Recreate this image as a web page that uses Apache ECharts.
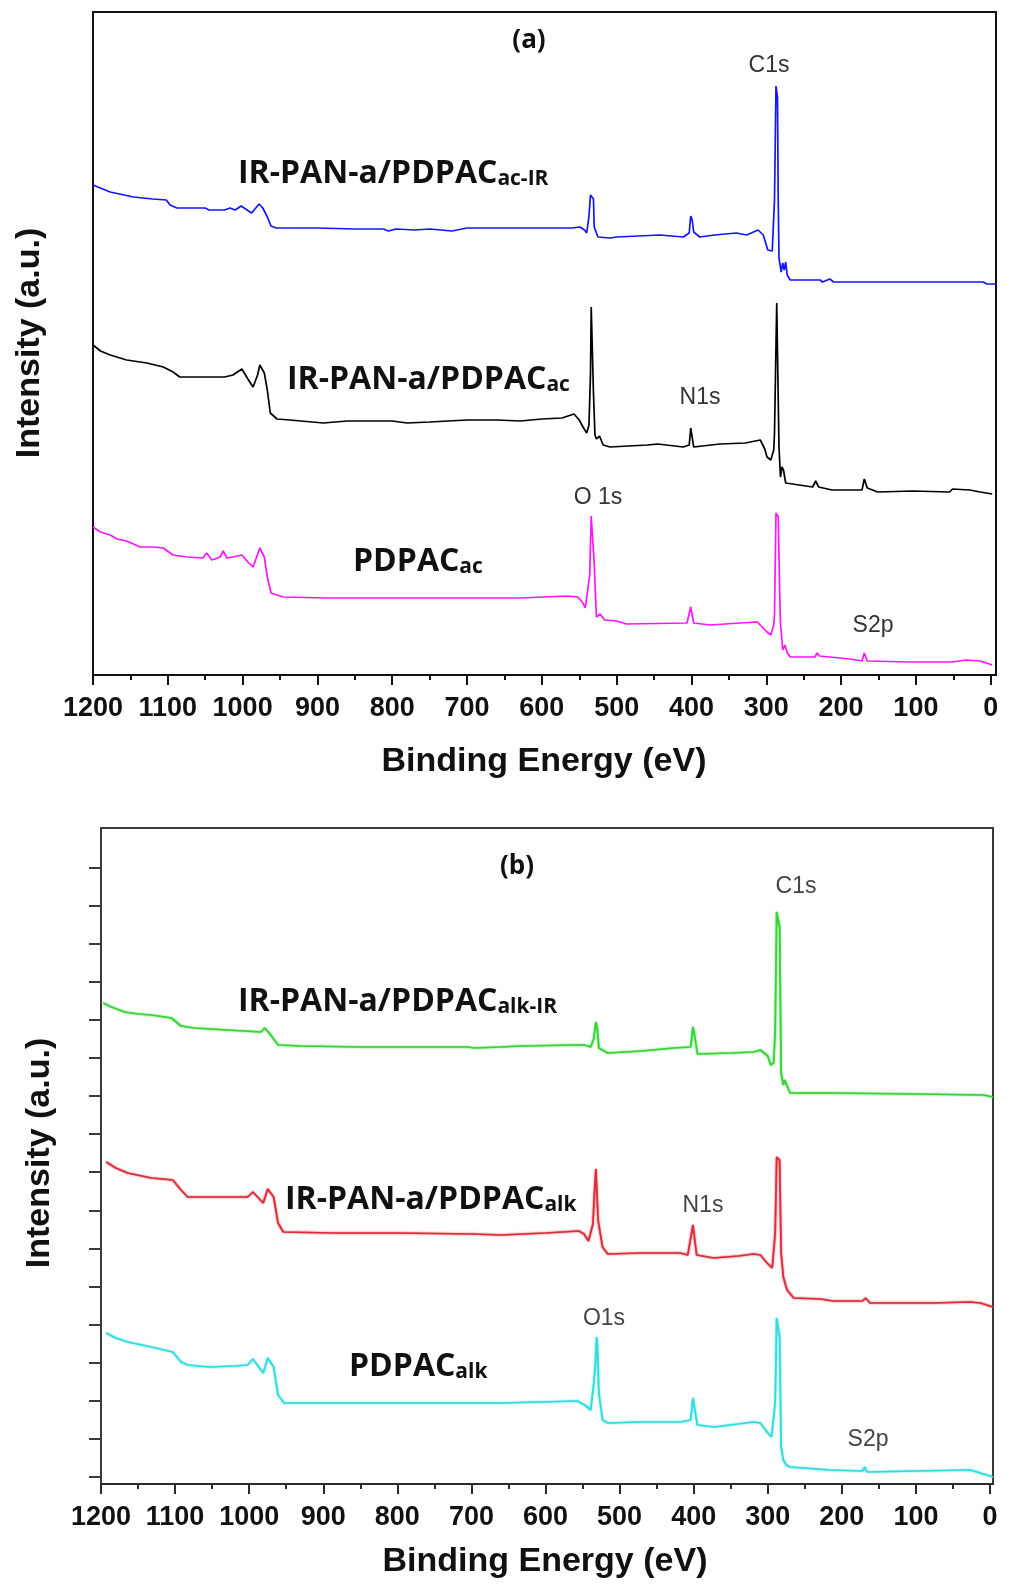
<!DOCTYPE html>
<html>
<head>
<meta charset="utf-8">
<title>XPS survey spectra</title>
<script src="https://cdn.jsdelivr.net/npm/echarts@6/dist/echarts.min.js"></script>
<style>
  html, body { margin: 0; padding: 0; background: #ffffff; }
  #chart { width: 1009px; height: 1589px; }
</style>
</head>
<body>
<div id="chart"></div>
<script>
// ---- Binding-energy scale (eV) ----
const energyTickStep = 100;
const energyMajorTicks = [0, 100, 200, 300, 400, 500, 600, 700, 800, 900, 1000, 1100, 1200];
const energyMinorTicks = [50, 150, 250, 350, 450, 550, 650, 750, 850, 950, 1050, 1150];
const energyMax = 1200;

// ---- Panel (a): acid-treated samples, [binding energy (eV), intensity (a.u.)] ----
const acIR = [
  [1200,490],[1177,483],[1146,478],[1120,476],[1102,475],[1097,470],[1088,467],[1050,467],[1045,465],
  [1024,465],[1017,467],[1010,465],[1002,469],[994,465],[988,462],[978,471],[973,467],[967,458],[962,449],
  [955,447],[941,447],[900,447],[850,446],[812,446],[805,444],[795,446],[770,445],[750,446],[720,444],
  [700,447],[650,447],[600,447],[560,447],[549,448],[543,445],[540,442],[537,459],[535,480],[533,478],
  [531,476],[530,448],[525,438],[509,437],[500,438],[442,440],[411,438],[403,442],[401,459],[399,455],
  [397,443],[389,438],[369,440],[340,442],[326,440],[311,445],[304,440],[298,425],[292,424],[289,475],
  [287,589],[285,578],[284,475],[283,417],[280,403],[278,412],[276,405],[274,413],[272,400],[268,395],
  [228,395],[225,393],[215,396],[210,393],[100,393],[10,393],[5,391],[-7,391]
];
const ac = [
  [1200,330],[1190,324],[1177,320],[1155,315],[1128,312],[1106,308],[1093,303],[1084,298],[1060,298],
  [1024,298],[1013,300],[1001,306],[993,296],[986,288],[980,300],[977,310],[971,302],[967,285],[963,262],
  [954,256],[937,255],[892,252],[860,254],[800,254],[780,252],[750,253],[700,255],[660,255],[629,254],
  [600,256],[573,257],[557,261],[550,255],[545,248],[540,242],[537,250],[535,300],[534,368],[532,366],
  [531,282],[529,240],[527,236],[523,239],[518,230],[509,228],[459,230],[445,231],[411,228],[403,230],
  [401,247],[399,247],[397,228],[362,231],[328,232],[308,235],[302,226],[299,218],[294,215],[290,225],
  [289,242],[287,330],[286,372],[284,372],[283,228],[281,198],[279,208],[277,205],[274,192],[272,190],
  [238,188],[234,194],[230,188],[212,185],[172,185],[169,196],[167,196],[165,187],[151,183],[104,184],
  [55,183],[51,186],[28,185],[14,183],[-2,181]
];
const pdpacAc = [
  [1200,148],[1190,143],[1177,140],[1168,136],[1155,134],[1137,128],[1120,128],[1106,127],[1093,120],
  [1074,118],[1053,117],[1048,122],[1041,115],[1030,118],[1026,124],[1021,117],[1013,118],[1001,120],
  [993,113],[986,108],[977,127],[971,118],[967,98],[962,82],[946,78],[887,77],[800,77],[700,77],[629,77],
  [566,79],[552,78],[545,72],[542,67],[540,65],[536,100],[534,159],[532,159],[530,112],[529,92],[527,58],
  [522,61],[516,55],[500,54],[487,51],[406,52],[401,68],[399,68],[397,52],[375,50],[335,52],[312,53],
  [299,43],[294,40],[290,50],[289,60],[287,162],[285,162],[284,158],[282,80],[281,52],[278,25],[275,30],
  [272,22],[268,18],[235,18],[232,22],[229,19],[188,16],[172,14],[169,22],[167,22],[165,14],[108,13],
  [51,13],[33,15],[14,14],[-2,10]
];

// ---- Panel (b): alkali-treated samples ----
const alkIR = [
  [1197,481],[1186,477],[1168,472],[1150,470],[1132,469],[1105,466],[1092,458],[1074,456],[1030,454],
  [984,452],[979,456],[977,457],[972,450],[961,439],[930,438],[850,437],[760,437],[704,437],[697,436],
  [660,437],[633,438],[560,439],[548,439],[539,437],[535,445],[532,462],[530,455],[528,436],[516,431],
  [470,433],[427,436],[404,437],[401,457],[399,450],[395,430],[350,431],[319,432],[310,434],[300,428],
  [296,419],[292,421],[290,454],[288,572],[286,572],[284,557],[282,411],[279,399],[277,404],[275,406],
  [270,391],[216,391],[100,390],[9,389],[-4,387]
];
const alk = [
  [1193,322],[1180,316],[1164,311],[1132,306],[1103,304],[1092,294],[1083,287],[1040,287],[1002,287],
  [995,292],[990,288],[981,281],[975,295],[973,297],[967,287],[961,261],[954,252],[885,251],[800,251],
  [700,250],[660,249],[600,251],[555,253],[548,250],[542,243],[536,260],[534,291],[532,315],[531,315],
  [529,264],[526,250],[523,237],[516,230],[470,231],[418,231],[408,229],[401,259],[399,259],[396,229],
  [373,226],[340,228],[319,230],[310,229],[301,221],[294,216],[290,251],[288,327],[286,327],[284,324],
  [282,231],[279,207],[274,194],[265,186],[229,185],[212,183],[172,183],[168,186],[162,181],[77,181],
  [27,182],[13,181],[-4,177]
];
const pdpacAlk = [
  [1193,151],[1180,146],[1164,142],[1132,137],[1103,132],[1092,122],[1083,119],[1055,117],[1020,118],
  [1002,119],[995,125],[990,120],[981,111],[975,126],[973,128],[967,117],[961,89],[953,81],[885,81],
  [800,81],[700,81],[660,81],[557,83],[545,78],[539,74],[535,100],[533,117],[531,147],[530,140],[528,91],
  [523,64],[516,61],[470,62],[418,62],[404,64],[401,86],[399,86],[395,59],[373,57],[340,60],[319,62],
  [310,61],[301,52],[295,47],[290,81],[288,166],[286,166],[284,147],[282,37],[279,24],[275,19],[270,17],
  [216,14],[172,13],[169,17],[166,12],[100,13],[27,14],[13,11],[-4,7]
];

// ---- Intensity axis tick marks in panel (b) ----
const intensityTickStart = 7;
const intensityTickStep = 38.1;
const intensityTickCount = 17;
const intensityTicks = Array.from({ length: intensityTickCount }, (_, i) => +(intensityTickStart + i * intensityTickStep).toFixed(1));

const chart = echarts.init(document.getElementById('chart'), null, { renderer: 'canvas' });

const INK = '#111111';
const INK_B = '#2a2a2a';

// Plot boxes. The energy axis runs slightly past 0 eV on the right, so the
// 1200 → 0 eV tick scale lives in thin strip grids hung under each plot and
// aligned with the data scale. In each strip, vertical mark lines at the tick
// energies form the outward tick marks (10 px major, 5 px minor), and the
// major strip's axis carries the tick labels.
const boxA = { left: 93, top: 12, width: 903, height: 663 };
const boxB = { left: 101, top: 828, width: 892, height: 656 };
const minA = -7.1, minB = -4;
const scaleA = { left: 93, width: 897.7, top: 676 };
const scaleB = { left: 101, width: 889, top: 1485 };

function dataEnergyAxis(gridIndex, min, lineColor) {
  return {
    type: 'value', gridIndex, inverse: true, min, max: energyMax, position: 'bottom',
    axisLine: { show: true, onZero: false, lineStyle: { color: lineColor, width: 2 } },
    axisTick: { show: false }, axisLabel: { show: false }, minorTick: { show: false },
    splitLine: { show: false }
  };
}
function tickStripAxis(gridIndex, withLabels) {
  return {
    type: 'value', gridIndex, inverse: true, min: 0, max: energyMax, interval: energyTickStep, position: 'bottom',
    axisLine: { show: false, onZero: false },
    axisTick: { show: false },
    splitLine: { show: false },
    axisLabel: withLabels ? {
      show: true, formatter: v => String(Math.round(v)), margin: 10,
      fontFamily: 'Liberation Sans', fontWeight: 'bold', fontSize: 27, color: INK,
      showMinLabel: true, showMaxLabel: true, hideOverlap: false
    } : { show: false }
  };
}
function hiddenAxis(gridIndex) {
  return { type: 'value', gridIndex, min: 0, max: 1, show: false };
}
// Tick marks drawn as vertical mark lines spanning a strip grid's full height.
function tickMarks(xIdx, yIdx, values, color) {
  return {
    type: 'line', xAxisIndex: xIdx, yAxisIndex: yIdx, data: [],
    showSymbol: false, symbol: 'none', silent: true, animation: false,
    lineStyle: { opacity: 0 },
    markLine: {
      silent: true, animation: false, symbol: ['none', 'none'], precision: 3,
      label: { show: false },
      emphasis: { disabled: true },
      lineStyle: { color, width: 2, type: 'solid', opacity: 1 },
      data: values.map(v => ({ xAxis: v }))
    }
  };
}
function spectrum(name, data, color, xIdx, yIdx, glow) {
  return {
    type: 'line', name, data, xAxisIndex: xIdx, yAxisIndex: yIdx,
    showSymbol: false, symbol: 'none', smooth: false, animation: false,
    lineStyle: Object.assign({ color, width: 1.7 }, glow ? { shadowColor: color, shadowBlur: 2 } : {})
  };
}

const sampleRich = (size, subSize) => ({
  m: { fontFamily: 'Open Sans', fontWeight: 700, fontSize: size, lineHeight: size, fill: INK },
  s: { fontFamily: 'Open Sans', fontWeight: 700, fontSize: subSize, lineHeight: 18, verticalAlign: 'bottom', fill: INK }
});
function sampleLabel(x, y, main, sub) {
  return {
    type: 'text', x, y,
    style: { text: '{m|' + main + '}{s|' + sub + '}', rich: sampleRich(32, 21), align: 'left', verticalAlign: 'middle' }
  };
}
function peakLabel(x, y, text, color) {
  return {
    type: 'text', x, y,
    style: { text, fontFamily: 'Liberation Sans', fontSize: 23, fill: color, align: 'center', verticalAlign: 'middle' }
  };
}
function plainLabel(x, y, text, font, size, rotation) {
  return {
    type: 'text', x, y, rotation: rotation || 0,
    style: { text, fontFamily: font, fontWeight: 'bold', fontSize: size, fill: INK, align: 'center', verticalAlign: 'middle' }
  };
}

chart.setOption({
  animation: false,
  backgroundColor: '#ffffff',
  grid: [
    Object.assign({ show: true, borderColor: INK, borderWidth: 2, backgroundColor: 'transparent' }, boxA),
    Object.assign({ show: true, borderColor: '#3a3a3a', borderWidth: 2, backgroundColor: 'transparent' }, boxB),
    Object.assign({ show: false, height: 9 }, scaleA),
    Object.assign({ show: false, height: 4 }, scaleA),
    Object.assign({ show: false, height: 9 }, scaleB),
    Object.assign({ show: false, height: 4 }, scaleB)
  ],
  xAxis: [
    dataEnergyAxis(0, minA, INK),
    dataEnergyAxis(1, minB, INK_B),
    tickStripAxis(2, true),
    tickStripAxis(3, false),
    tickStripAxis(4, true),
    tickStripAxis(5, false)
  ],
  yAxis: [
    {
      type: 'value', gridIndex: 0, min: 0, max: 663, position: 'left',
      axisLine: { show: true, onZero: false, lineStyle: { color: INK, width: 2 } },
      axisTick: { show: false }, axisLabel: { show: false }, splitLine: { show: false }
    },
    {
      type: 'value', gridIndex: 1, min: 0, max: 656, position: 'left',
      axisLine: { show: true, onZero: false, lineStyle: { color: '#3a3a3a', width: 2 } },
      axisTick: { show: true, inside: false, length: 12, customValues: intensityTicks, lineStyle: { color: '#3a3a3a', width: 2 } },
      axisLabel: { show: false }, splitLine: { show: false }
    },
    hiddenAxis(2), hiddenAxis(3), hiddenAxis(4), hiddenAxis(5)
  ],
  series: [
    spectrum('IR-PAN-a/PDPACac-IR', acIR, '#1414ff', 0, 0, false),
    spectrum('IR-PAN-a/PDPACac', ac, '#000000', 0, 0, false),
    spectrum('PDPACac', pdpacAc, '#ff14ff', 0, 0, false),
    spectrum('IR-PAN-a/PDPACalk-IR', alkIR, '#35d435', 1, 1, true),
    spectrum('IR-PAN-a/PDPACalk', alk, '#dc2c3a', 1, 1, true),
    spectrum('PDPACalk', pdpacAlk, '#30dcdc', 1, 1, true),
    tickMarks(2, 2, energyMajorTicks, INK),
    tickMarks(3, 3, energyMinorTicks, INK),
    tickMarks(4, 4, energyMajorTicks, INK_B),
    tickMarks(5, 5, energyMinorTicks, INK_B)
  ],
  graphic: [
    // panel (a)
    plainLabel(529, 41, '(a)', 'Open Sans', 26),
    sampleLabel(238, 174, 'IR-PAN-a/PDPAC', 'ac-IR'),
    sampleLabel(287, 380, 'IR-PAN-a/PDPAC', 'ac'),
    sampleLabel(353, 562, 'PDPAC', 'ac'),
    peakLabel(769, 66, 'C1s', '#333333'),
    peakLabel(700, 398, 'N1s', '#333333'),
    peakLabel(598, 498, 'O 1s', '#333333'),
    peakLabel(873, 626, 'S2p', '#333333'),
    plainLabel(544, 762, 'Binding Energy (eV)', 'Liberation Sans', 34),
    plainLabel(30, 343, 'Intensity (a.u.)', 'Liberation Sans', 34, Math.PI / 2),
    // panel (b)
    plainLabel(517, 867, '(b)', 'Open Sans', 26),
    sampleLabel(238, 1002, 'IR-PAN-a/PDPAC', 'alk-IR'),
    sampleLabel(285, 1200, 'IR-PAN-a/PDPAC', 'alk'),
    sampleLabel(349, 1367, 'PDPAC', 'alk'),
    peakLabel(796, 887, 'C1s', '#444444'),
    peakLabel(703, 1206, 'N1s', '#444444'),
    peakLabel(604, 1319, 'O1s', '#444444'),
    peakLabel(868, 1440, 'S2p', '#444444'),
    plainLabel(545, 1562, 'Binding Energy (eV)', 'Liberation Sans', 34),
    plainLabel(40, 1153, 'Intensity (a.u.)', 'Liberation Sans', 34, Math.PI / 2)
  ]
});
</script>
</body>
</html>
